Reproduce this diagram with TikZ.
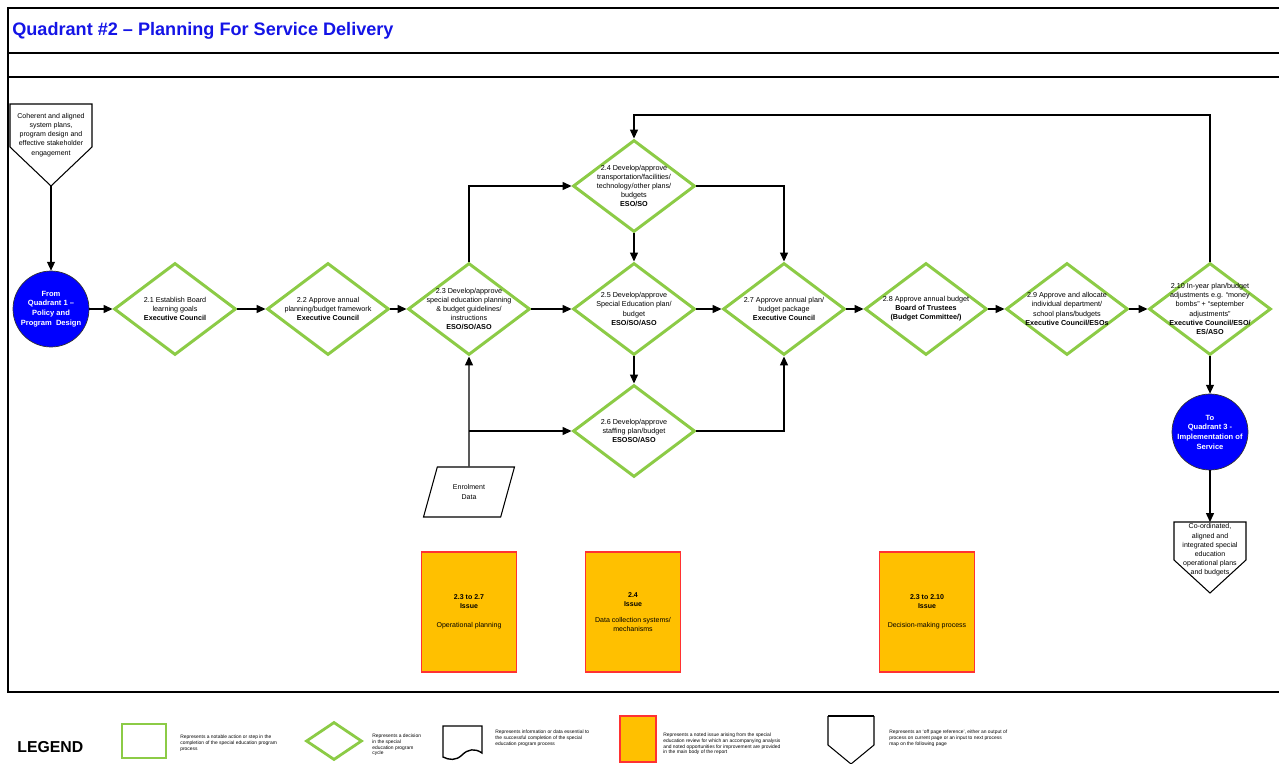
\documentclass[tikz,border=0pt]{standalone}
\usepackage{fontspec}
\setmainfont{Liberation Sans}
\usetikzlibrary{positioning,arrows.meta,shapes.geometric}
\definecolor{stepgreen}{RGB}{140,203,70}
\definecolor{qblue}{RGB}{0,0,255}
\definecolor{titleblue}{RGB}{20,20,230}
\definecolor{issueorange}{RGB}{255,192,0}
\definecolor{issuered}{RGB}{255,50,50}
\tikzset{
  decision/.style={diamond,draw=stepgreen,line width=1.7pt,minimum width=2.44cm,minimum height=1.84cm,
    inner sep=-30pt,align=center,font=\fontsize{4.1}{5.2}\selectfont},
  quad/.style={circle,draw=black!80,fill=qblue,text=white,minimum size=1.52cm,inner sep=-6pt,
    align=center,font=\fontsize{4.3}{5.5}\selectfont\bfseries},
  issue/.style={rectangle,draw=issuered,fill=issueorange,line width=0.8pt,minimum width=1.9cm,
    minimum height=2.4cm,align=center,font=\fontsize{4}{5}\selectfont},
  small/.style={align=center,inner sep=0pt,font=\fontsize{4}{5.2}\selectfont},
  legtext/.style={anchor=west,align=left,inner sep=0pt,font=\fontsize{2.8}{3.3}\selectfont},
  conn/.style={->,line width=0.6pt}
}

\begin{document}
\begin{tikzpicture}[x=0.02cm,y=-0.02cm,>={Triangle[length=5pt,width=4.5pt]}]
\useasboundingbox (0,0) rectangle (1279,764);
% frame and title band
\draw[line width=0.6pt] (1279,8) -- (8,8) -- (8,692) -- (1279,692);
\draw[line width=0.6pt] (8,53) -- (1279,53);
\draw[line width=0.6pt] (8,77) -- (1279,77);
\node[anchor=west,inner sep=0pt,text=titleblue,font=\fontsize{10.3}{12}\selectfont\bfseries] (title) at (12,31) {Quadrant \#2 -- Planning For Service Delivery};

% off page input
\draw[line width=0.6pt] (10,104) -- (92,104) -- (92,147) -- (51,186) -- (10,147) -- cycle;
\coordinate (op1) at (51,186);
\node[small] (op1txt) at (51,135) {Coherent and aligned\\system plans,\\program design and\\effective stakeholder\\engagement};

% main row
\node[quad] (q1) at (51,309) {From\\Quadrant 1 --\\Policy and\\Program~~Design};
\node[decision] (d21) at (175,309) {2.1 Establish Board\\learning goals\\\textbf{Executive Council}};
\node[decision] (d22) at (328,309) {2.2 Approve annual\\planning/budget framework\\\textbf{Executive Council}};
\node[decision] (d23) at (469,309) {2.3 Develop/approve\\special education planning\\\& budget guidelines/\\instructions\\\textbf{ESO/SO/ASO}};
\node[decision] (d24) at (634,186) {2.4 Develop/approve\\transportation/facilities/\\technology/other plans/\\budgets\\\textbf{ESO/SO}};
\node[decision] (d25) at (634,309) {2.5 Develop/approve\\Special Education plan/\\budget\\\textbf{ESO/SO/ASO}};
\node[decision] (d26) at (634,431) {2.6 Develop/approve\\staffing plan/budget\\\textbf{ESOSO/ASO}};
\node[decision] (d27) at (784,309) {2.7 Approve annual plan/\\budget package\\\textbf{Executive Council}};
\node[decision] (d28) at (926,309) {2.8 Approve annual budget\\\textbf{Board of Trustees}\\\textbf{(Budget Committee/)}};
\node[decision] (d29) at (1067,309) {2.9 Approve and allocate\\individual department/\\school plans/budgets\\\textbf{Executive Council/ESOs}};
\node[decision] (d210) at (1210,309) {2.10 In-year plan/budget\\adjustments e.g. ``money\\bombs'' + ``september\\adjustments''\\\textbf{Executive Council/ESO/}\\\textbf{ES/ASO}};
\node[quad] (q3) at (1210,432) {To\\Quadrant 3 -\\Implementation of\\Service};
\node[trapezium,trapezium left angle=64,trapezium right angle=116,trapezium stretches=true,draw,line width=0.6pt,
  minimum width=1.82cm,minimum height=1cm,inner sep=0pt,align=center,font=\fontsize{4}{5.2}\selectfont] (enrol) at (469,492) {Enrolment\\Data};

% off page output
\draw[line width=0.6pt] (1174,522) -- (1246,522) -- (1246,560) -- (1210,593) -- (1174,560) -- cycle;
\coordinate (op2) at (1210,522);
\node[small] (op2txt) at (1210,550) {Co-ordinated,\\aligned and\\integrated special\\education\\operational plans\\and budgets};

% connectors
\coordinate (loop) at (1210,115);
\draw[conn] (op1) -- (q1);
\draw[conn] (q1) -- (d21);
\draw[conn] (d21) -- (d22);
\draw[conn] (d22) -- (d23);
\draw[conn] (d23) -- (d25);
\draw[conn] (d25) -- (d27);
\draw[conn] (d27) -- (d28);
\draw[conn] (d28) -- (d29);
\draw[conn] (d29) -- (d210);
\draw[conn] (d23.north) |- (d24.west);
\draw[conn] (d24) -- (d25);
\draw[conn] (d24.east) -| (d27.north);
\draw[conn] (d25) -- (d26);
\draw[conn] (d26.east) -| (d27.south);
\draw[conn] (enrol.north) -- (d23.south);
\draw[conn] (enrol.north |- d26.west) -- (d26.west);
\draw[conn] (d210.north) -- (d210.north |- loop) -| (d24.north);
\draw[conn] (d210) -- (q3);
\draw[conn] (q3) -- (op2);

% issues
\node[issue] (iss1) at (469,612) {\textbf{2.3 to 2.7}\\\textbf{Issue}\\[6pt]Operational planning};
\node[issue] (iss2) at (633,612) {\textbf{2.4}\\\textbf{Issue}\\[4pt]Data collection systems/\\mechanisms};
\node[issue] (iss3) at (927,612) {\textbf{2.3 to 2.10}\\\textbf{Issue}\\[6pt]Decision-making process};

% legend
\node[anchor=west,inner sep=0pt,font=\fontsize{9}{10}\selectfont\bfseries] (legend) at (17,747) {LEGEND};
\node[draw=stepgreen,line width=1.6pt,minimum width=0.88cm,minimum height=0.68cm] (lgstep) at (144,741) {};
\node[legtext] (lgsteptxt) at (180,743) {Represents a notable action or step in the\\completion of the special education program\\process};
\node[diamond,draw=stepgreen,line width=1.6pt,minimum width=1.12cm,minimum height=0.76cm,inner sep=0pt] (lgdec) at (334,741) {};
\node[legtext] (lgdectxt) at (372,745) {Represents a decision\\in the special\\education program\\cycle};
\draw[line width=0.8pt] (443,726) -- (482,726) -- (482,753) .. controls (475,748) and (468,749) .. (462,755) .. controls (456,761) and (449,760) .. (443,757) -- cycle;
\node[legtext] (lgdoctxt) at (495,738) {Represents information or data essential to\\the successful completion of the special\\education program process};
\node[rectangle,draw=issuered,fill=issueorange,line width=0.8pt,minimum width=0.72cm,minimum height=0.92cm] (lgissue) at (638,739) {};
\node[legtext] (lgissuetxt) at (663,744) {Represents a noted issue arising from the special\\education review for which an accompanying analysis\\and noted opportunities for improvement are provided\\in the main body of the report};
\draw[line width=0.6pt] (828,716) -- (828,745) -- (851,764) -- (874,745) -- (874,716);
\draw[line width=1.2pt] (828,716) -- (874,716);
\node[legtext] (lgoptxt) at (889,738) {Represents an `off page reference', either an output of\\process on current page or an input to next process\\map on the following page};
\end{tikzpicture}
\end{document}
